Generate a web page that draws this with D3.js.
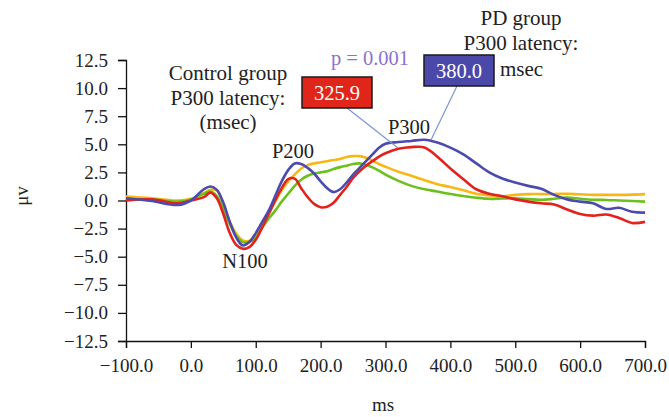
<!DOCTYPE html>
<html>
<head>
<meta charset="utf-8">
<script src="https://cdn.jsdelivr.net/npm/d3@7"></script>
<style>
  body { margin: 0; background: #fff; }
  text { font-family: "Liberation Serif", "Times New Roman", serif; }
</style>
</head>
<body>
<div id="chart"></div>
<script>
// time grid (ms) shared by all four averaged waveforms
var times = [-100, -60, -20, 0, 20, 30, 40, 50, 60, 70, 80, 90, 100, 110, 120, 130, 140, 150, 160, 170,
  180, 190, 200, 210, 220, 230, 240, 250, 260, 270, 280, 290, 300, 320, 340, 360, 380, 400, 420, 440,
  460, 480, 500, 520, 540, 560, 580, 600, 620, 640, 660, 680, 700];

// amplitudes in microvolts
var yellowWave = [0.35, 0.2, 0.0, 0.15, 0.65, 0.95, 0.9, -0.3, -1.9, -2.95, -3.55, -3.6, -3.0, -2.0, -1.1, -0.1, 0.9, 1.7, 2.3, 2.85,
  3.15, 3.3, 3.4, 3.5, 3.6, 3.7, 3.87, 3.95, 3.95, 3.8, 3.55, 3.25, 3.0, 2.55, 2.2, 1.8, 1.45, 1.2, 0.92, 0.6,
  0.45, 0.38, 0.5, 0.57, 0.57, 0.58, 0.6, 0.55, 0.5, 0.5, 0.5, 0.52, 0.57];
var greenWave = [0.1, 0.1, -0.1, 0.1, 0.6, 0.8, 0.4, -0.8, -2.1, -3.15, -3.7, -3.7, -3.3, -2.4, -1.6, -0.9, -0.1, 0.6, 1.3, 1.85,
  2.2, 2.4, 2.5, 2.6, 2.8, 2.97, 3.1, 3.25, 3.3, 3.15, 2.95, 2.65, 2.3, 1.75, 1.3, 1.0, 0.8, 0.57, 0.4, 0.25,
  0.15, 0.18, 0.2, 0.12, 0.06, 0.15, 0.27, 0.15, 0.06, 0.05, 0.0, -0.05, -0.1];
var redWave = [0.0, 0.1, -0.25, 0.0, 0.3, 0.7, 0.2, -1.2, -2.9, -3.95, -4.3, -4.15, -3.5, -2.4, -1.2, 0.0, 1.1, 1.9, 1.95, 1.1,
  0.3, -0.3, -0.6, -0.55, -0.2, 0.5, 1.2, 2.0, 2.6, 3.1, 3.5, 3.9, 4.2, 4.6, 4.75, 4.72, 3.9, 2.85, 1.9, 1.0,
  0.6, 0.38, 0.1, -0.1, -0.25, -0.35, -0.8, -1.2, -1.35, -1.25, -1.55, -2.0, -1.9];
var blueWave = [0.2, -0.05, -0.4, 0.0, 1.0, 1.25, 0.95, -0.2, -1.9, -3.3, -4.0, -3.7, -2.9, -1.9, -0.9, 0.4, 1.7, 2.7, 3.3, 3.25,
  2.9, 2.4, 1.7, 1.1, 0.75, 1.0, 1.6, 2.3, 2.9, 3.5, 4.1, 4.7, 5.05, 5.2, 5.3, 5.4, 5.15, 4.7, 4.1, 3.3,
  2.5, 1.95, 1.6, 1.3, 1.05, 0.5, 0.1, -0.1, -0.25, -0.75, -0.65, -1.0, -1.08];

var waveColors = ["#f8b814", "#6cbf1c", "#e2221d", "#4b4aae"];

// tick values for both axes
var xTicks = [-100, 0, 100, 200, 300, 400, 500, 600, 700];
var yTicks = [12.5, 10, 7.5, 5, 2.5, 0, -2.5, -5, -7.5, -10, -12.5];

// latencies shown in the two boxes
var controlLatency = 325.9;
var pdLatency = 380.0;

var width = 669, height = 417;
var svg = d3.select("#chart").append("svg")
    .attr("width", width)
    .attr("height", height);

var x = d3.scaleLinear().domain([-100, 700]).range([126, 645]);
var y = d3.scaleLinear().domain([-12.5, 12.5]).range([341, 60]);

//axes
var xAxis = svg.append("g")
    .attr("transform", "translate(0," + y(-12.5) + ")")
    .call(d3.axisBottom(x).tickValues(xTicks).tickSize(7).tickPadding(11)
        .tickFormat(d3.format(".1f")));
var yAxis = svg.append("g")
    .attr("transform", "translate(" + x(-100) + ",0)")
    .call(d3.axisLeft(y).tickValues(yTicks).tickSize(8).tickPadding(10)
        .tickFormat(d3.format(".1f")));

[xAxis, yAxis].forEach(function(a) {
    a.select(".domain").attr("stroke", "#111").attr("stroke-width", 1.3);
    a.selectAll(".tick line").attr("stroke", "#111").attr("stroke-width", 1.3);
    a.selectAll(".tick text")
        .attr("font-family", "Liberation Serif")
        .attr("font-size", 19)
        .attr("fill", "#222");
});

//axis titles
svg.append("text")
    .attr("x", 383).attr("y", 411)
    .attr("text-anchor", "middle")
    .attr("font-size", 19).attr("fill", "#222")
    .text("ms");
svg.append("text")
    .attr("transform", "translate(28,196) rotate(-90)")
    .attr("text-anchor", "middle")
    .attr("font-size", 19).attr("fill", "#222")
    .text("μv");

//waveforms
var line = d3.line()
    .x(function(d) { return x(d[0]); })
    .y(function(d) { return y(d[1]); })
    .curve(d3.curveCatmullRom.alpha(0.5));

[yellowWave, greenWave, redWave, blueWave].forEach(function(wave, i) {
    svg.append("path")
        .datum(d3.zip(times, wave))
        .attr("fill", "none")
        .attr("stroke", waveColors[i])
        .attr("stroke-width", 2.6)
        .attr("stroke-linejoin", "round")
        .attr("d", line);
});

//component labels
var labels = [["N100", 245, 268], ["P200", 293, 158], ["P300", 409, 134]];
svg.selectAll(".comp")
    .data(labels)
    .enter()
    .append("text")
        .attr("class", "comp")
        .attr("x", function(d) { return d[1]; })
        .attr("y", function(d) { return d[2]; })
        .attr("text-anchor", "middle")
        .attr("font-size", 20.5)
        .attr("fill", "#222")
        .text(function(d) { return d[0]; });

//pointer lines from the boxes to the P300 peaks
svg.append("line")
    .attr("x1", 347).attr("y1", 108).attr("x2", 398).attr("y2", 148)
    .attr("stroke", "#7b95d6").attr("stroke-width", 1.2);
svg.append("line")
    .attr("x1", 457).attr("y1", 86).attr("x2", 431).attr("y2", 140)
    .attr("stroke", "#7b95d6").attr("stroke-width", 1.2);

//latency boxes
function box(x0, y0, fill, value) {
    svg.append("rect")
        .attr("x", x0).attr("y", y0)
        .attr("width", 70).attr("height", 31)
        .attr("fill", fill)
        .attr("stroke", "#1a1a1a").attr("stroke-width", 1.5);
    svg.append("text")
        .attr("x", x0 + 35).attr("y", y0 + 23)
        .attr("text-anchor", "middle")
        .attr("font-size", 20.5)
        .attr("fill", "#fff")
        .text(d3.format(".1f")(value));
}
box(302, 77, "#e0261b", controlLatency);
box(424, 55, "#4a48a8", pdLatency);

//group captions
function caption(lines, cx, y0) {
    lines.forEach(function(t, i) {
        svg.append("text")
            .attr("x", cx).attr("y", y0 + i * 24.5)
            .attr("text-anchor", "middle")
            .attr("font-size", 21)
            .attr("fill", "#222")
            .text(t);
    });
}
caption(["Control group", "P300 latency:", "(msec)"], 228, 80);
caption(["PD group", "P300 latency:"], 521, 25);

svg.append("text")
    .attr("x", 500).attr("y", 76)
    .attr("font-size", 21).attr("fill", "#222")
    .text("msec");

svg.append("text")
    .attr("x", 370).attr("y", 65)
    .attr("text-anchor", "middle")
    .attr("font-size", 20.5).attr("fill", "#8b72d2")
    .text("p = 0.001");
</script>
</body>
</html>
